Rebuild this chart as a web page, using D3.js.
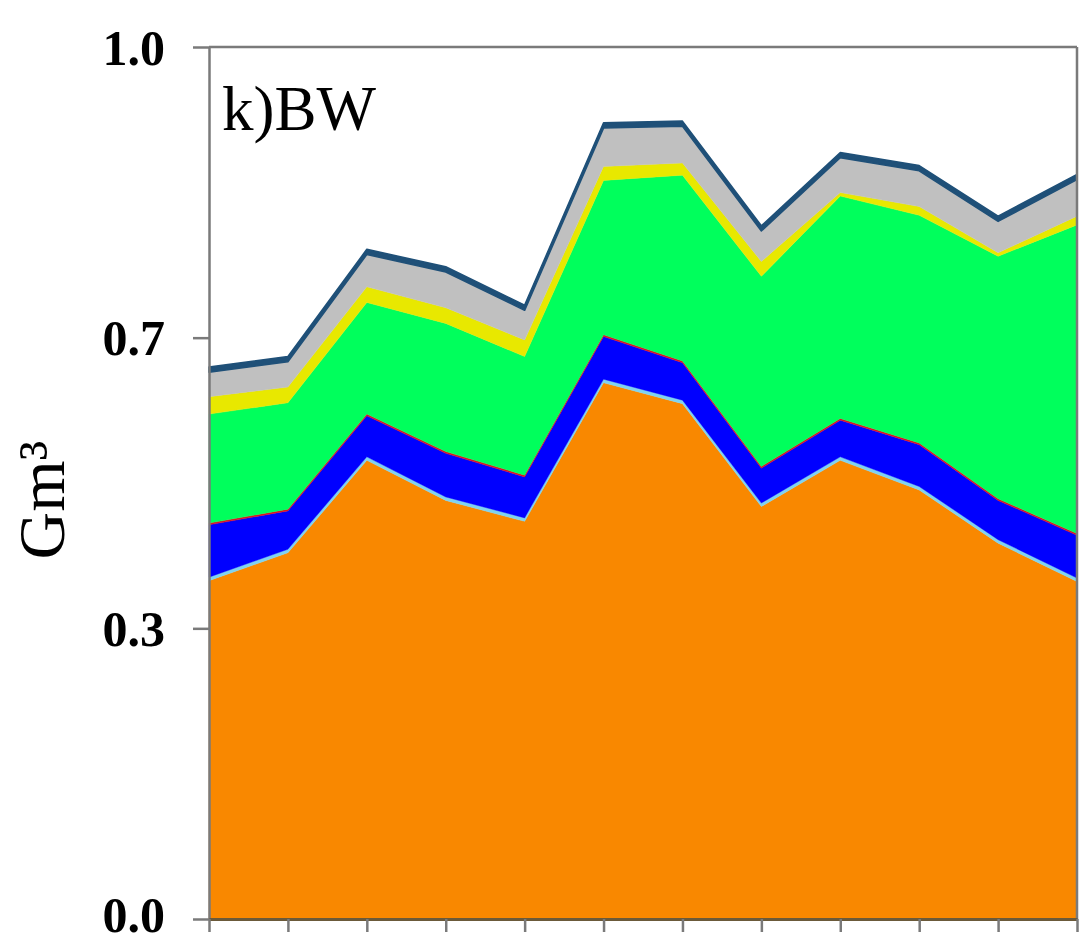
<!DOCTYPE html>
<html>
<head>
<meta charset="utf-8">
<script src="https://cdn.jsdelivr.net/npm/d3@7"></script>
<style>
  html, body { margin: 0; padding: 0; background: #fff; }
  svg { display: block; }
</style>
</head>
<body>
<svg id="chart" width="1092" height="939"></svg>
<script>
// ---- data ----
const categories = [1, 2, 3, 4, 5, 6, 7, 8, 9, 10, 11, 12];
const seriesNames = ["orange", "cyan", "blue", "red", "green", "yellow", "gray", "dark"];
const orangeVals = [0.388, 0.420, 0.526, 0.480, 0.456, 0.615, 0.591, 0.473, 0.526, 0.492, 0.431, 0.387];
const cyanVals   = [0.004, 0.004, 0.004, 0.004, 0.004, 0.004, 0.004, 0.004, 0.004, 0.004, 0.004, 0.004];
const blueVals   = [0.060, 0.044, 0.047, 0.050, 0.047, 0.049, 0.043, 0.040, 0.042, 0.048, 0.045, 0.049];
const redVals    = [0.002, 0.002, 0.002, 0.002, 0.002, 0.002, 0.002, 0.002, 0.002, 0.002, 0.002, 0.002];
const greenVals  = [0.125, 0.122, 0.128, 0.147, 0.136, 0.177, 0.213, 0.218, 0.255, 0.261, 0.278, 0.354];
const yellowVals = [0.020, 0.018, 0.018, 0.018, 0.019, 0.016, 0.014, 0.017, 0.004, 0.010, 0.004, 0.010];
const grayVals   = [0.028, 0.029, 0.037, 0.041, 0.034, 0.044, 0.042, 0.035, 0.040, 0.041, 0.036, 0.042];
const darkVals   = [0.006, 0.006, 0.006, 0.006, 0.006, 0.006, 0.006, 0.006, 0.006, 0.006, 0.006, 0.006];
const seriesColors = ["#f98800", "#7fd3f0", "#0000ff", "#e01020", "#00ff5c", "#e8e800", "#c0c0c0", "#1f5078"];
const yTickValues = [0, 1 / 3, 2 / 3, 1];
const yTickLabels = ["0.0", "0.3", "0.7", "1.0"];
const panelLabel = "k)BW";
const yAxisTitle = "Gm³";

// ---- build table ----
const valueArrays = [orangeVals, cyanVals, blueVals, redVals, greenVals, yellowVals, grayVals, darkVals];
const table = categories.map((c, i) => {
  const row = { cat: c };
  seriesNames.forEach((s, k) => { row[s] = valueArrays[k][i]; });
  return row;
});

// ---- layout ----
const margin = { left: 209, top: 47, right: 15, bottom: 20 };
const W = 1092, H = 939;
const innerW = W - margin.left - margin.right; // 868
const innerH = H - margin.top - margin.bottom; // 872

const svg = d3.select("#chart");
const g = svg.append("g").attr("transform", `translate(${margin.left},${margin.top})`);

const x = d3.scalePoint().domain(categories).range([0, innerW]);
const y = d3.scaleLinear().domain([0, 1]).range([innerH, 0]);

const stack = d3.stack().keys(seriesNames);
const layers = stack(table);

const area = d3.area()
  .x(d => x(d.data.cat))
  .y0(d => y(d[0]))
  .y1(d => y(d[1]));

g.selectAll("path.layer")
  .data(layers)
  .join("path")
  .attr("class", "layer")
  .attr("d", area)
  .attr("fill", (d, i) => seriesColors[i])
  .attr("stroke", (d, i) => seriesColors[i])
  .attr("stroke-width", (d, i) => (seriesNames[i] === "dark" ? 1.5 : 0.4))
  .attr("stroke-linejoin", "round");

// ---- frame ----
const frameColor = "#7a7a7a";
g.append("line").attr("x1", 0).attr("x2", innerW).attr("y1", 0).attr("y2", 0)
  .attr("stroke", frameColor).attr("stroke-width", 2.5);
g.append("line").attr("x1", innerW).attr("x2", innerW).attr("y1", 0).attr("y2", innerH)
  .attr("stroke", frameColor).attr("stroke-width", 2.5);

// ---- axes ----
const yAxis = d3.axisLeft(y)
  .tickValues(yTickValues)
  .tickFormat((d, i) => yTickLabels[i])
  .tickSizeInner(16)
  .tickSizeOuter(0)
  .tickPadding(28);
const yg = g.append("g").call(yAxis);
yg.select(".domain").attr("stroke", frameColor).attr("stroke-width", 2.5);
yg.selectAll(".tick line").attr("stroke", frameColor).attr("stroke-width", 2.5);
yg.selectAll(".tick text")
  .attr("font-family", "'Liberation Serif', 'Times New Roman', serif")
  .attr("font-weight", "bold")
  .attr("font-size", 50)
  .attr("fill", "#000")
  .attr("dy", (d, i) => (i === 0 ? "0.24em" : "0.34em"));

const xAxis = d3.axisBottom(x)
  .tickFormat("")
  .tickSizeInner(13)
  .tickSizeOuter(0);
const xg = g.append("g").attr("transform", `translate(0,${innerH})`).call(xAxis);
xg.select(".domain").attr("stroke", "#6b5a3a").attr("stroke-width", 3);
xg.selectAll(".tick line").attr("stroke", frameColor).attr("stroke-width", 2.5);

// ---- texts ----
g.append("text")
  .attr("x", 13)
  .attr("y", 83)
  .attr("font-family", "'Liberation Serif', 'Times New Roman', serif")
  .attr("font-size", 63)
  .attr("fill", "#000")
  .text(panelLabel);

svg.append("text")
  .attr("transform", `translate(64,500) rotate(-90)`)
  .attr("text-anchor", "middle")
  .attr("font-family", "'Liberation Serif', 'Times New Roman', serif")
  .attr("font-size", 66)
  .attr("fill", "#000")
  .text(yAxisTitle);
</script>
</body>
</html>
